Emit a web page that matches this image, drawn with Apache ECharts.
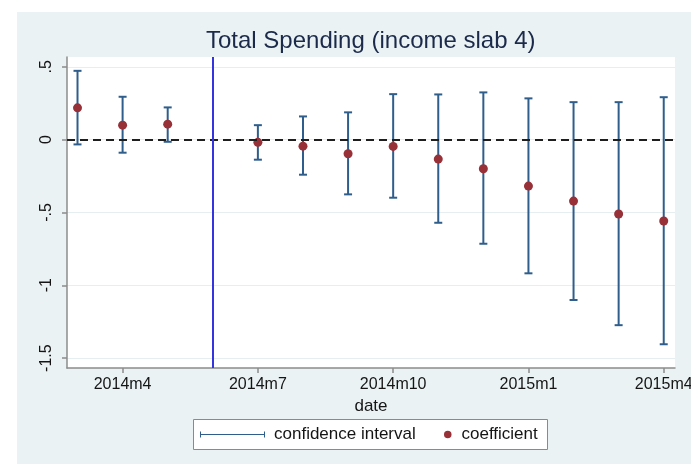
<!DOCTYPE html>
<html>
<head>
<meta charset="utf-8">
<script src="https://cdn.jsdelivr.net/npm/echarts@6/dist/echarts.min.js"></script>
<style>html,body{margin:0;padding:0;background:#fff}#c{width:691px;height:464px}</style>
</head>
<body>
<div id="c"></div>
<script>
// month index 0 = 2014m3 ... 13 = 2015m4; 2014m6 is the reference month (no estimate)
var months = ['2014m3','2014m4','2014m5','2014m6','2014m7','2014m8','2014m9','2014m10','2014m11','2014m12','2015m1','2015m2','2015m3','2015m4'];
var coefficient = [0.218, 0.099, 0.106, null, -0.019, -0.045, -0.097, -0.047, -0.134, -0.200, -0.319, -0.422, -0.511, -0.559];
var ciHigh = [0.472, 0.294, 0.221, null, 0.099, 0.159, 0.187, 0.312, 0.310, 0.324, 0.283, 0.257, 0.257, 0.291];
var ciLow = [-0.033, -0.090, -0.015, null, -0.138, -0.241, -0.376, -0.399, -0.571, -0.715, -0.918, -1.101, -1.274, -1.405];
var xTickLabels = ['2014m4','2014m7','2014m10','2015m1','2015m4'];
var yTickValues = [0.5, 0, -0.5, -1, -1.5];
var yTickLabels = ['.5','0','-.5','-1','-1.5'];
var eventMonth = '2014m6';

var xTickValues = xTickLabels.map(function(m){ return months.indexOf(m); });
var eventIndex = months.indexOf(eventMonth);

var ciData = [], coefData = [];
months.forEach(function(m, i){
  if (coefficient[i] !== null) {
    ciData.push([i, ciLow[i], ciHigh[i]]);
    coefData.push([i, coefficient[i]]);
  }
});

var FONT = 'Liberation Sans, Arial, Helvetica, sans-serif';
var CI_COLOR = '#2f5e8c';
var DOT_COLOR = '#973037';

var chart = echarts.init(document.getElementById('c'), null, {renderer: 'canvas'});
chart.setOption({
  animation: false,
  backgroundColor: '#ffffff',
  textStyle: {fontFamily: FONT},
  graphic: [
    {type: 'rect', z: -10, silent: true, shape: {x: 17, y: 12, width: 674, height: 452}, style: {fill: '#eaf2f3'}},
    {type: 'rect', z: 5, silent: true, shape: {x: 193.5, y: 419.5, width: 354, height: 30}, style: {fill: '#ffffff', stroke: '#8a8a8a', lineWidth: 1}}
  ],
  title: {
    text: 'Total Spending (income slab 4)',
    left: 206, top: 29, padding: 0,
    textStyle: {fontFamily: FONT, fontSize: 24, fontWeight: 'normal', color: '#1b2a4a'}
  },
  legend: [
    {
      left: 200, top: 424.5, padding: 0, z: 10,
      itemWidth: 65, itemHeight: 6,
      data: [{name: 'confidence interval', icon: 'path://M0,2.5 L65,2.5 L65,3.5 L0,3.5 Z M0,0 L1,0 L1,6 L0,6 Z M64,0 L65,0 L65,6 L64,6 Z', itemStyle: {color: CI_COLOR, borderWidth: 0}}],
      textStyle: {fontFamily: FONT, fontSize: 17, color: '#151515', lineHeight: 20, padding: [0,0,0,4]},
      selectedMode: false
    },
    {
      left: 444, top: 424.5, padding: 0, z: 10,
      itemWidth: 7.5, itemHeight: 7.5,
      data: [{name: 'coefficient', icon: 'circle', itemStyle: {color: DOT_COLOR, borderWidth: 0}}],
      textStyle: {fontFamily: FONT, fontSize: 17, color: '#151515', lineHeight: 20, padding: [0,0,0,5]},
      selectedMode: false
    }
  ],
  grid: {left: 67, top: 57, right: 16, bottom: 96, show: true, backgroundColor: '#ffffff', borderWidth: 0, containLabel: false, outerBoundsMode: 'none'},
  xAxis: {
    type: 'value', min: -0.233, max: 13.25,
    name: 'date', nameLocation: 'middle', nameGap: 22,
    nameTextStyle: {fontFamily: FONT, fontSize: 17, color: '#151515'},
    axisLine: {show: true, onZero: false, lineStyle: {color: '#8c8c8c', width: 1.5}},
    axisTick: {show: true, inside: false, length: 5, customValues: xTickValues, lineStyle: {color: '#8c8c8c', width: 1.5}},
    axisLabel: {customValues: xTickValues, margin: 9, fontFamily: FONT, fontSize: 16, color: '#151515',
      formatter: function(v){ return months[Math.round(v)]; }},
    splitLine: {show: false}
  },
  yAxis: {
    type: 'value', min: -1.568, max: 0.567,
    axisLine: {show: true, onZero: false, lineStyle: {color: '#8c8c8c', width: 1.5}},
    axisTick: {show: true, inside: false, length: 5, customValues: yTickValues, lineStyle: {color: '#8c8c8c', width: 1.5}},
    axisLabel: {customValues: yTickValues, rotate: 90, margin: 12, fontFamily: FONT, fontSize: 16, color: '#151515',
      formatter: function(v){ var k = yTickValues.indexOf(+v.toFixed(6)); return k >= 0 ? yTickLabels[k] : ''; }},
    splitLine: {show: true, lineStyle: {color: '#e6eef0', width: 1}}
  },
  series: [
    {
      type: 'line', name: 'zero', data: [], silent: true, z: 1,
      markLine: {
        silent: true, symbol: 'none', animation: false, label: {show: false},
        data: [
          {yAxis: 0, lineStyle: {color: '#1e1e1e', width: 2, type: [8, 5]}},
          {xAxis: eventIndex, lineStyle: {color: '#3535e0', width: 2, type: 'solid'}}
        ]
      }
    },
    {
      type: 'custom', name: 'confidence interval', z: 3,
      itemStyle: {color: CI_COLOR},
      encode: {x: 0, y: [1, 2]},
      data: ciData,
      renderItem: function(params, api){
        var x = api.value(0);
        var lo = api.coord([x, api.value(1)]);
        var hi = api.coord([x, api.value(2)]);
        var hw = 4;
        var st = {stroke: CI_COLOR, lineWidth: 2, fill: null};
        return {type: 'group', children: [
          {type: 'line', shape: {x1: lo[0], y1: lo[1], x2: hi[0], y2: hi[1]}, style: st},
          {type: 'line', shape: {x1: lo[0]-hw, y1: lo[1], x2: lo[0]+hw, y2: lo[1]}, style: st},
          {type: 'line', shape: {x1: hi[0]-hw, y1: hi[1], x2: hi[0]+hw, y2: hi[1]}, style: st}
        ]};
      }
    },
    {
      type: 'scatter', name: 'coefficient', z: 4,
      symbol: 'circle', symbolSize: 9,
      itemStyle: {color: DOT_COLOR, opacity: 1},
      data: coefData
    }
  ]
});
</script>
</body>
</html>
